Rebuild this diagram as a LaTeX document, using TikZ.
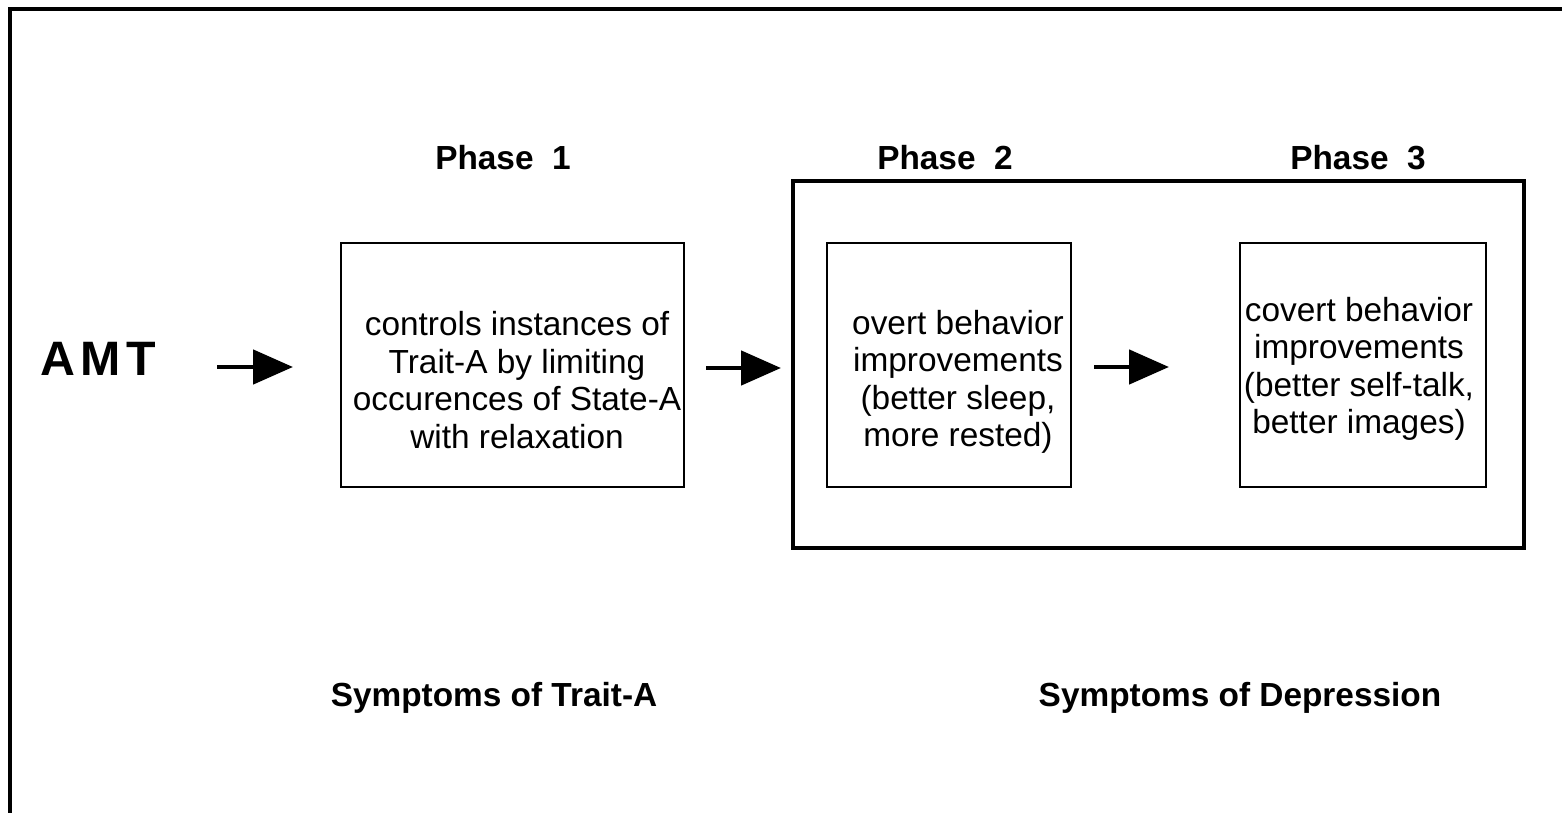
\documentclass[tikz,border=0pt]{standalone}
\usepackage{fontspec}
\setmainfont{Liberation Sans}
\usetikzlibrary{arrows.meta}
\begin{document}
\begin{tikzpicture}[x=0.02cm,y=-0.02cm,
 box/.style={draw,line width=1.6pt,inner sep=0pt},
 txt/.style={align=center,font=\fontsize{19}{21.3}\selectfont,inner sep=0pt},
 lbl/.style={font=\fontsize{19}{21.3}\selectfont\bfseries,inner sep=0pt},
 arr/.style={line width=2.8pt,-{Triangle[length=0.8cm,width=0.68cm]}}]
\useasboundingbox (0,0) rectangle (1562,813);
\draw[line width=2.3pt] (10,830) -- (10,9) -- (1580,9);
% boxes
\node[box,minimum width=6.86cm,minimum height=4.88cm] (b1) at (512.5,365) {};
\node[box,line width=1.9pt,minimum width=14.62cm,minimum height=7.34cm] (outer) at (1158.5,364.5) {};
\node[box,minimum width=4.88cm,minimum height=4.88cm] (b2) at (949,365) {};
\node[box,minimum width=4.92cm,minimum height=4.88cm] (b3) at (1363,365) {};
% texts
\node[txt] (t1) at (517,380) {controls instances of\\Trait-A by limiting\\occurences of State-A\\with relaxation};
\node[txt] (t2) at (958,382) {overt behavior\\improvements\\(better sleep,\\more rested)};
\node[txt] (t3) at (1359,369) {covert behavior\\improvements\\(better self-talk,\\better images)};
\node[inner sep=0pt,font=\fontsize{27.5}{30}\selectfont\bfseries] (amt) at (98,359) {A\kern3pt M\kern3pt T};
\node[lbl] (p1) at (503,158) {Phase\ \ 1};
\node[lbl] (p2) at (945,158) {Phase\ \ 2};
\node[lbl] (p3) at (1358,158) {Phase\ \ 3};
\node[lbl] (s1) at (494,698) {Symptoms of Trait-A};
\node[lbl] (s2) at (1240,698) {Symptoms of Depression};
% arrows
\coordinate (a1s) at (217,367); \coordinate (a1e) at (293,367);
\coordinate (a2s) at (706,368); \coordinate (a2e) at (781,368);
\coordinate (a3s) at (1094,367); \coordinate (a3e) at (1169,367);
\draw[arr] (a1s) -- (a1e);
\draw[arr] (a2s) -- (a2e);
\draw[arr] (a3s) -- (a3e);
\end{tikzpicture}
\end{document}
